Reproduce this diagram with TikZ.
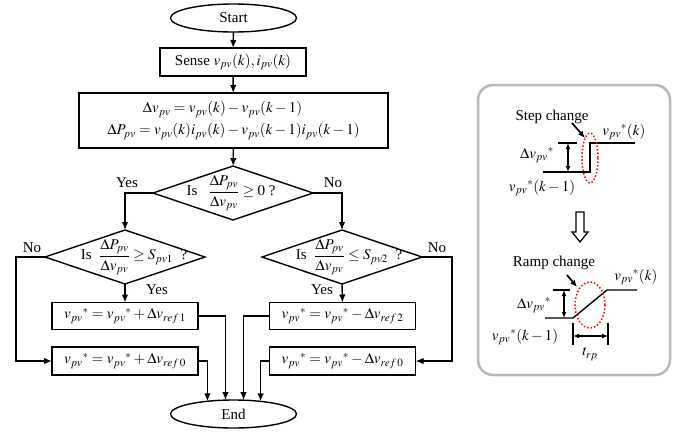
\documentclass[tikz,border=0pt]{standalone}
\usepackage{mathptmx}
\usepackage[no-math]{fontspec}
\setmainfont{Liberation Serif}
\usetikzlibrary{shapes.geometric,arrows.meta}
\begin{document}
\begin{tikzpicture}[x=1pt,y=-1pt,
  font=\fontsize{15}{17}\selectfont,
  line width=1.4pt,
  arr/.style={-{Latex[length=8pt,width=6.5pt]}},
  darr/.style={{Latex[length=6pt,width=5pt]}-{Latex[length=6pt,width=5pt]}},
  pointer/.style={line width=1.7pt,-{Latex[length=7pt,width=6pt]}},
  proc/.style={draw, rectangle, inner sep=0pt, outer sep=0pt},
  term/.style={draw, ellipse, minimum width=126pt, minimum height=28pt, inner sep=0pt, outer sep=0pt},
  dec/.style={draw, diamond, minimum width=160pt, minimum height=54pt, inner sep=0pt, outer sep=0pt},
  txt/.style={inner sep=0pt, outer sep=0pt},
  redell/.style={draw=red, dotted, line width=1.5pt},
  plain/.style={line width=1.4pt}]
\useasboundingbox (0,0) rectangle (688,432);
% terminals and process boxes
\node[term] (start) at (233.5,18) {Start};
\node[proc, minimum width=146pt, minimum height=28pt] (sense) at (233,62) {Sense $v_{pv}(k),i_{pv}(k)$};
\node[proc, minimum width=309pt, minimum height=55pt, align=center] (delta) at (233.5,120.5)
  {$\Delta v_{pv}=v_{pv}(k)-v_{pv}(k-1)$\hspace*{22pt}\\[5pt]$\Delta P_{pv}=v_{pv}(k)i_{pv}(k)-v_{pv}(k-1)i_{pv}(k-1)$};
% decisions
\node[dec] (d1) at (233,193) {};
\node[txt] (t1) at (231,193) {Is\ \ \ $\displaystyle\frac{\Delta P_{pv}}{\Delta v_{pv}}\ge 0$ ?};
\node[dec] (d2) at (125,257) {};
\node[txt] (t2) at (134,257) {Is\ \ $\displaystyle\frac{\Delta P_{pv}}{\Delta v_{pv}}\ge S_{pv1}$\ \ ?};
\node[dec] (d3) at (342,257) {};
\node[txt] (t3) at (349,257) {Is\ \ $\displaystyle\frac{\Delta P_{pv}}{\Delta v_{pv}}\le S_{pv2}$\ \ ?};
% update boxes
\node[proc, minimum width=146pt, minimum height=27pt] (b3) at (125,316) {$v_{pv}{}^{*}=v_{pv}{}^{*}+\Delta v_{ref\,1}$};
\node[proc, minimum width=146pt, minimum height=28pt] (b4) at (125,361) {$v_{pv}{}^{*}=v_{pv}{}^{*}+\Delta v_{ref\,0}$};
\node[proc, minimum width=146pt, minimum height=27pt] (b5) at (342.5,316) {$v_{pv}{}^{*}=v_{pv}{}^{*}-\Delta v_{ref\,2}$};
\node[proc, minimum width=146pt, minimum height=28pt] (b6) at (342.5,361) {$v_{pv}{}^{*}=v_{pv}{}^{*}-\Delta v_{ref\,0}$};
\node[term] (end) at (233.5,414) {End};
% corner coordinates
\coordinate (nl) at (16,257);
\coordinate (nr) at (452,257);
% connectors
\draw[arr] (start) -- (sense);
\draw[arr] (sense) -- (delta);
\draw[arr] (delta) -- (d1);
\draw[arr] (d1.west) -| (d2.north);
\draw[arr] (d1.east) -| (d3.north);
\draw[arr] (d2.south) -- (b3.north);
\draw[arr] (d3.south) -- (b5.north);
\draw[arr] (d2.west) -- (nl) |- (b4.west);
\draw[arr] (d3.east) -- (nr) |- (b6.east);
\draw[arr] (b3.east) -| (end.120);
\draw[arr] (b4.east) -| (end.154);
\draw[arr] (b5.west) -| (end.54);
\draw[arr] (b6.west) -| (end.25);
% branch labels
\node[txt] (y1) at (127,183) {Yes};
\node[txt] (n1) at (333,183) {No};
\node[txt] (n2) at (32,248) {No};
\node[txt] (y2) at (157,290) {Yes};
\node[txt] (y3) at (322,290) {Yes};
\node[txt] (n3) at (437,248) {No};
% right panel
\draw[gray!55, line width=2.5pt, rounded corners=15pt] (478,85) rectangle (670,375);
% step change
\draw[plain] (543,172) -- (590,172) -- (590,143) -- (635,143);
\draw[plain] (558,143) -- (577,143);
\draw[plain, darr] (568,143) -- (568,172);
\draw[redell] (590,158) ellipse [x radius=8, y radius=25];
\draw[pointer] (572,123) -- (585,138);
\node[txt] (sc) at (552,117) {Step change};
\node[txt] (s1) at (624,132) {$v_{pv}{}^{*}(k)$};
\node[txt] (s2) at (537,155) {$\Delta v_{pv}{}^{*}$};
\node[txt] (s3) at (542,188) {$v_{pv}{}^{*}(k-1)$};
% hollow arrow
\draw[line width=1.2pt, fill=white] (576,212) -- (584,212) -- (584,232) -- (588,232) -- (580,242) -- (572,232) -- (576,232) -- cycle;
% ramp change
\draw[plain] (545,318) -- (573,318) -- (607,290) -- (637,290);
\draw[plain] (553,290) -- (570,290);
\draw[plain, darr] (564,290) -- (564,318);
\draw[redell] (590,305) ellipse [x radius=15, y radius=23];
\draw[pointer] (567,275) -- (577,287);
\draw[plain] (573,323) -- (573,345);
\draw[plain] (608,323) -- (608,345);
\draw[plain, darr] (573,336) -- (608,336);
\node[txt] (rc) at (554,263) {Ramp change};
\node[txt] (r1) at (636,277) {$v_{pv}{}^{*}(k)$};
\node[txt] (r2) at (534,305) {$\Delta v_{pv}{}^{*}$};
\node[txt] (r3) at (525,337) {$v_{pv}{}^{*}(k-1)$};
\node[txt] (r4) at (590,354) {$t_{rp}$};
\end{tikzpicture}
\end{document}
